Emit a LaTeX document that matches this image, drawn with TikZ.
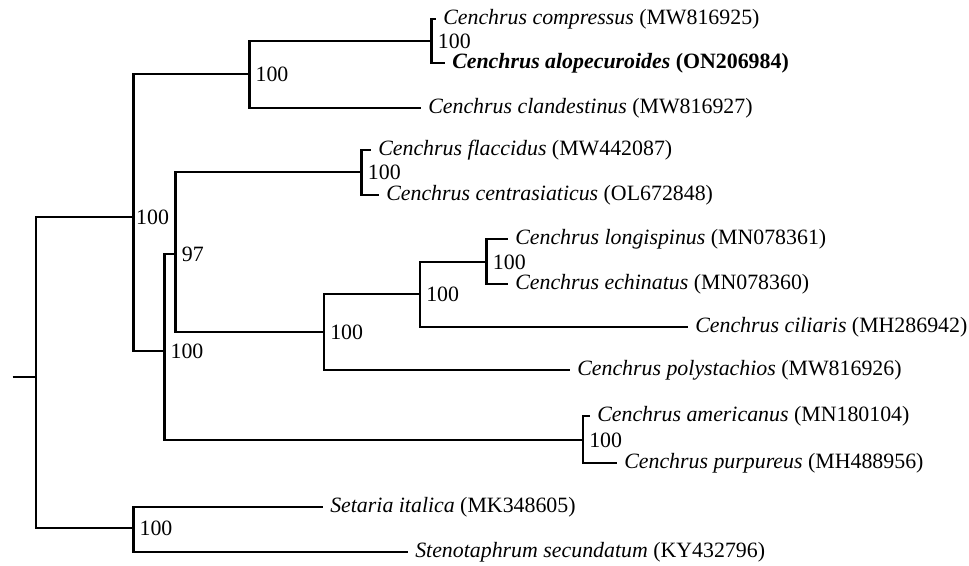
\documentclass[tikz,border=0pt]{standalone}
\usepackage{fontspec}
\setmainfont{Liberation Serif}
\usepackage{tikz}
\usetikzlibrary{calc}
\newcommand{\TreeFont}{\fontsize{16.4}{19}\selectfont}
\tikzset{
  branch/.style={draw, line width=2pt},
  tipbranch/.style={branch, shorten >=5.5pt},   % stops just short of the name
  taxon/.style={anchor=west, inner xsep=0pt, font=\TreeFont},
  support/.style={anchor=west, inner xsep=4.5pt, inner ysep=0pt, font=\TreeFont}
}
% name, x, y, species, accession
\newcommand{\Taxon}[5]{%
  \node[taxon] (#1) at (#2,#3) {\textit{#4} (#5)};%
}

\begin{document}
\begin{tikzpicture}[x=0.75pt, y=-0.75pt]
  \useasboundingbox (0,0) rectangle (969,565);
  % internal nodes
  \coordinate (base) at (12.7,377);
  \coordinate (root) at (36,377);
  \coordinate (cench) at (133.3,217);
  \coordinate (clA) at (249.3,74);
  \coordinate (clAa) at (431.7,41);
  \coordinate (clB) at (164.3,351);
  \coordinate (clC) at (175.7,254);
  \coordinate (clCa) at (361.7,172);
  \coordinate (clD) at (324,332);
  \coordinate (clE) at (420,294);
  \coordinate (clEa) at (486.7,262);
  \coordinate (clF) at (583,440);
  \coordinate (outg) at (133.3,528);
  % taxa
  \Taxon{compr}{443}{19}{Cenchrus compressus}{MW816925}
  \node[taxon] (alope) at (452,63) {\textbf{\textit{Cenchrus alopecuroides} (ON206984)}};
  \Taxon{cland}{428}{108}{Cenchrus clandestinus}{MW816927}
  \Taxon{flacc}{378}{150}{Cenchrus flaccidus}{MW442087}
  \Taxon{centr}{386}{195}{Cenchrus centrasiaticus}{OL672848}
  \Taxon{longi}{515}{239}{Cenchrus longispinus}{MN078361}
  \Taxon{echin}{515}{284}{Cenchrus echinatus}{MN078360}
  \Taxon{cilia}{695}{327}{Cenchrus ciliaris}{MH286942}
  \Taxon{polys}{577}{370}{Cenchrus polystachios}{MW816926}
  \Taxon{ameri}{597}{416}{Cenchrus americanus}{MN180104}
  \Taxon{purpu}{624}{463}{Cenchrus purpureus}{MH488956}
  \Taxon{setar}{330}{507}{Setaria italica}{MK348605}
  \Taxon{steno}{415}{552}{Stenotaphrum secundatum}{KY432796}
  % branches
  \draw[branch] (base) -- (root);
  \draw[branch] (root) |- (cench);
  \draw[branch] (root) |- (outg);
  \draw[branch] (cench) |- (clA);
  \draw[branch] (cench) |- (clB);
  \draw[branch] (clA) |- (clAa);
  \draw[tipbranch] (clAa) |- (compr.west);
  \draw[tipbranch] (clAa) |- (alope.west);
  \draw[tipbranch] (clA) |- (cland.west);
  \draw[branch] (clB) |- (clC);
  \draw[branch] (clB) |- (clF);
  \draw[branch] (clC) |- (clCa);
  \draw[tipbranch] (clCa) |- (flacc.west);
  \draw[tipbranch] (clCa) |- (centr.west);
  \draw[branch] (clC) |- (clD);
  \draw[branch] (clD) |- (clE);
  \draw[tipbranch] (clD) |- (polys.west);
  \draw[branch] (clE) |- (clEa);
  \draw[tipbranch] (clEa) |- (longi.west);
  \draw[tipbranch] (clEa) |- (echin.west);
  \draw[tipbranch] (clE) |- (cilia.west);
  \draw[tipbranch] (clF) |- (ameri.west);
  \draw[tipbranch] (clF) |- (purpu.west);
  \draw[tipbranch] (outg) |- (setar.west);
  \draw[tipbranch] (outg) |- (steno.west);
  % bootstrap values
  \node[support, inner xsep=2pt] (bsCench) at (cench) {100};
  \node[support] (bsA) at (clA) {100};
  \node[support] (bsAa) at (clAa) {100};
  \node[support] (bsB) at (clB) {100};
  \node[support] (bsC) at (clC) {97};
  \node[support] (bsCa) at (clCa) {100};
  \node[support] (bsD) at (clD) {100};
  \node[support] (bsE) at (clE) {100};
  \node[support] (bsEa) at (clEa) {100};
  \node[support] (bsF) at (clF) {100};
  \node[support] (bsOut) at (outg) {100};
\end{tikzpicture}
\end{document}
